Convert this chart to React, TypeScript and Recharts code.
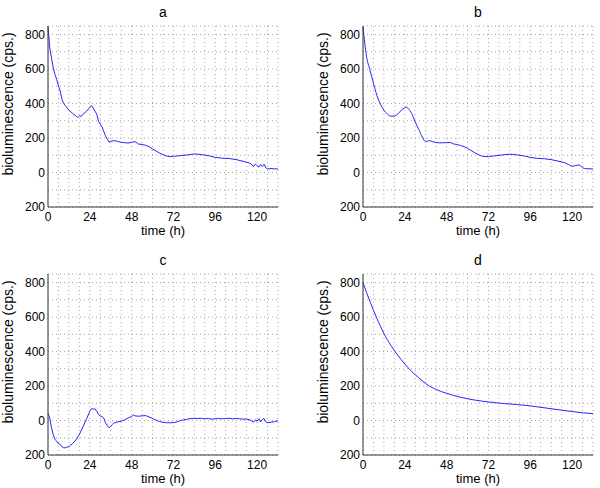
import { LineChart, Line, XAxis, YAxis, CartesianGrid } from "recharts"

const timeTicks = [0, 6, 12, 18, 24, 30, 36, 42, 48, 54, 60, 66, 72, 78, 84, 90, 96, 102, 108, 114, 120, 126, 132]
const valueTicks = [-200, -100, 0, 100, 200, 300, 400, 500, 600, 700, 800]

// panel a: raw bioluminescence
const aTime = [0, 1, 2, 3, 4, 5, 6, 7, 8, 9, 10, 12, 14, 16, 17, 18, 19, 20, 22, 24, 25, 26, 28, 29, 30, 31, 32, 33, 34, 35, 36, 38, 40, 42, 44, 46, 48, 50, 52, 54, 56, 58, 60, 62, 64, 66, 68, 70, 72, 76, 80, 84, 88, 92, 96, 100, 104, 108, 112, 116, 118, 119, 120, 121, 122, 123, 124, 125, 126, 128, 130, 132]
const aValue = [845, 723, 665, 608, 569, 540, 502, 473, 425, 400, 387, 362, 344, 329, 319, 329, 325, 338, 354, 377, 388, 373, 338, 296, 281, 265, 238, 213, 194, 177, 181, 185, 181, 175, 173, 171, 175, 179, 165, 163, 158, 150, 137, 125, 113, 104, 96, 92, 94, 98, 102, 108, 104, 98, 88, 83, 81, 75, 65, 54, 35, 50, 40, 31, 46, 35, 48, 27, 21, 23, 21, 21]

// panel b: smoothed
const bTime = [0, 2, 4, 6, 8, 10, 12, 14, 16, 18, 20, 22, 24, 25, 26, 28, 30, 32, 34, 36, 38, 40, 44, 48, 50, 52, 54, 56, 58, 60, 62, 64, 66, 68, 70, 72, 76, 80, 84, 88, 92, 96, 100, 104, 108, 112, 116, 118, 120, 122, 124, 126, 128, 132]
const bValue = [845, 675, 595, 518, 447, 396, 362, 339, 327, 327, 340, 362, 376, 380, 370, 342, 292, 250, 205, 180, 185, 179, 172, 173, 174, 166, 162, 157, 150, 140, 128, 116, 105, 96, 92, 93, 97, 102, 106, 103, 97, 88, 82, 80, 75, 66, 56, 46, 37, 40, 44, 28, 22, 21]

// panel c: detrended
const cTime = [0, 1, 2, 3, 4, 5, 6, 7, 8, 9, 10, 11, 12, 13, 14, 16, 18, 20, 22, 24, 25, 26, 27, 28, 29, 30, 31, 32, 33, 34, 35, 36, 37, 38, 40, 42, 44, 46, 48, 49, 50, 52, 54, 56, 58, 60, 62, 64, 66, 68, 70, 72, 74, 76, 78, 80, 82, 84, 86, 88, 90, 92, 94, 96, 98, 100, 102, 104, 106, 108, 110, 112, 114, 116, 118, 119, 120, 121, 122, 123, 124, 125, 126, 128, 130, 132]
const cValue = [44, 15, -42, -81, -110, -119, -135, -138, -152, -158, -158, -154, -152, -142, -135, -113, -81, -38, 6, 54, 69, 67, 67, 54, 35, 27, 23, 15, -13, -29, -42, -33, -23, -13, -8, -4, 4, 15, 23, 31, 27, 25, 27, 29, 21, 12, 2, -6, -10, -13, -13, -12, -8, 0, 4, 8, 12, 13, 12, 13, 10, 12, 8, 10, 12, 10, 12, 13, 10, 12, 10, 8, 8, 4, -10, 4, -4, 10, -8, 6, 12, -8, -13, -10, -6, -2]

// panel d: trend
const dTime = [0, 4, 8, 12, 16, 20, 24, 28, 32, 36, 42, 48, 56, 64, 72, 80, 88, 96, 104, 112, 120, 126, 132]
const dValue = [800, 690, 592, 505, 436, 378, 328, 284, 248, 214, 180, 158, 135, 119, 108, 99, 93, 85, 74, 63, 52, 45, 40]

const FONT = '"Liberation Sans", Arial, Helvetica, sans-serif'
const tickStyle = { fontSize: 12, fill: "#000", fontFamily: FONT }

interface PanelProps {
  title: string
  times: number[]
  values: number[]
  left: number
  top: number
  smooth?: boolean
}

function Panel({ title, times, values, left, top, smooth }: PanelProps) {
  const data = times.map((t, i) => ({ t, v: values[i] }))
  return (
    <div style={{ position: "absolute", left, top, width: 300, height: 248 }}>
      <LineChart width={300} height={240} data={data} margin={{ top: 26, right: 22, bottom: 0, left: 0 }}>
        <CartesianGrid stroke="#a6a6a6" strokeDasharray="1 3" />
        <XAxis
          type="number"
          dataKey="t"
          domain={[0, 132]}
          ticks={timeTicks}
          interval={0}
          height={33}
          tickLine={false}
          tickSize={3}
          tickMargin={2}
          axisLine={{ stroke: "#333" }}
          tick={tickStyle}
          tickFormatter={(v: number) => (v % 24 === 0 ? String(v) : "")}
        />
        <YAxis
          type="number"
          domain={[-200, 850]}
          ticks={valueTicks}
          interval={0}
          allowDataOverflow
          width={48}
          tickLine={false}
          tickSize={1}
          tickMargin={2}
          axisLine={{ stroke: "#333" }}
          tick={tickStyle}
          tickFormatter={(v: number) => (v % 200 === 0 ? String(Math.abs(v)) : "")}
        />
        <Line
          type={smooth ? "monotone" : "linear"}
          dataKey="v"
          stroke="#2424ff"
          strokeWidth={1}
          dot={false}
          isAnimationActive={false}
        />
      </LineChart>
      <svg width={300} height={248} style={{ position: "absolute", left: 0, top: 0, pointerEvents: "none" }}>
        <text x={163} y={17} textAnchor="middle" fontSize={14} fontFamily={FONT}>{title}</text>
        <text x={163} y={235} textAnchor="middle" fontSize={13} fontFamily={FONT}>time (h)</text>
        <text
          x={0}
          y={0}
          transform="translate(13,104) rotate(-90)"
          textAnchor="middle"
          fontSize={14}
          fontFamily={FONT}
        >
          bioluminescence (cps.)
        </text>
      </svg>
    </div>
  )
}

export default function App() {
  return (
    <div style={{ position: "absolute", left: 0, top: 0, width: 600, height: 488, background: "#fff" }}>
      <Panel title="a" times={aTime} values={aValue} left={0} top={0} />
      <Panel title="b" times={bTime} values={bValue} left={315} top={0} smooth />
      <Panel title="c" times={cTime} values={cValue} left={0} top={248} />
      <Panel title="d" times={dTime} values={dValue} left={315} top={248} smooth />
    </div>
  )
}
